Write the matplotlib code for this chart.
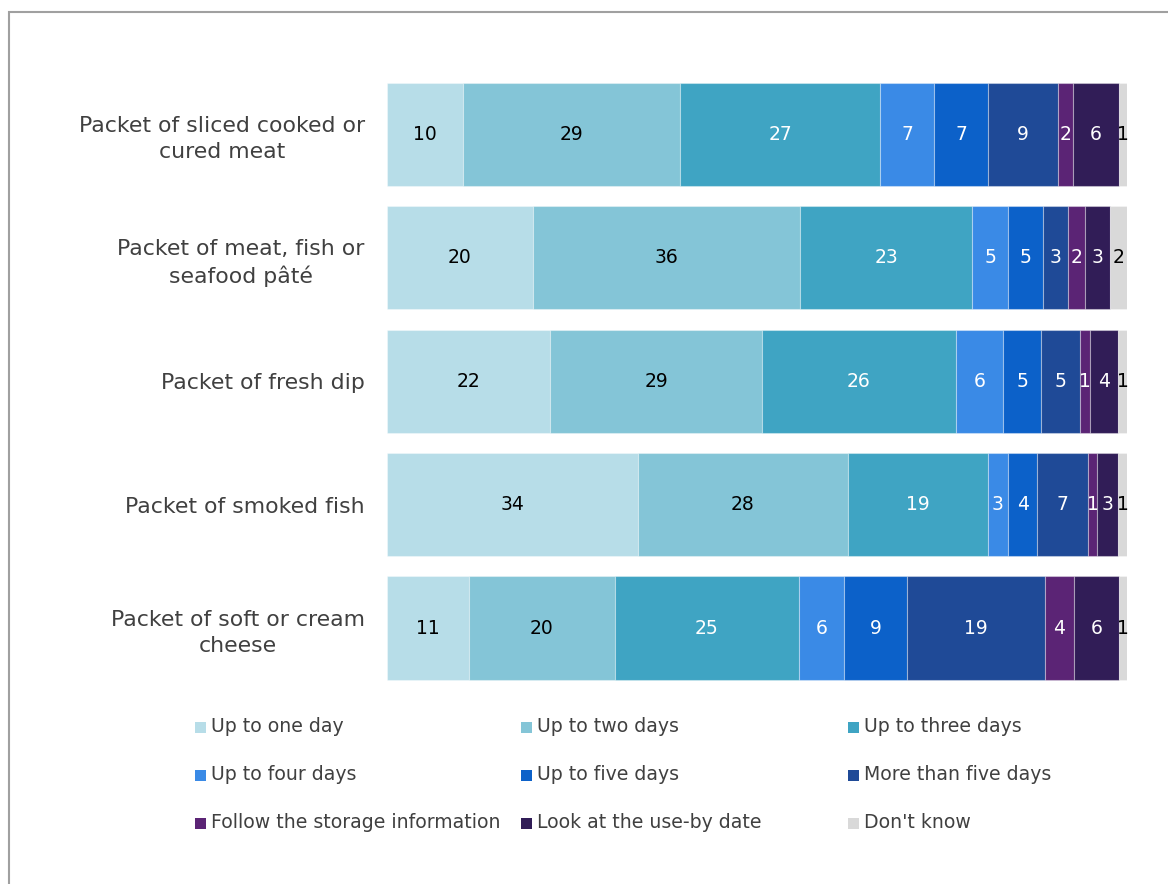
import numpy as np
import matplotlib.pyplot as plt
from matplotlib.patches import Rectangle

plt.rcParams['font.family'] = ['DejaVu Sans']

categories = ['Packet of sliced cooked or\ncured meat',
              'Packet of meat, fish or\nseafood pâté',
              'Packet of fresh dip',
              'Packet of smoked fish',
              'Packet of soft or cream\ncheese']

series = ['Up to one day', 'Up to two days', 'Up to three days',
          'Up to four days', 'Up to five days', 'More than five days',
          'Follow the storage information', 'Look at the use-by date', "Don't know"]

# percentages (labels show them rounded)
up_to_one   = [10.3, 19.7, 22.0, 33.8, 11.1]
up_to_two   = [29.3, 36.1, 28.6, 28.4, 19.7]
up_to_three = [27.0, 23.2, 26.1, 18.8, 24.9]
up_to_four  = [7.3, 4.9, 6.4, 2.8, 6.1]
up_to_five  = [7.3, 4.6, 5.1, 3.9, 8.6]
more_five   = [9.4, 3.4, 5.3, 6.8, 18.6]
follow_info = [2.0, 2.3, 1.3, 1.3, 3.9]
use_by      = [6.2, 3.4, 3.8, 2.8, 6.1]
dont_know   = [1.1, 2.3, 1.2, 1.2, 1.1]

values = np.array([up_to_one, up_to_two, up_to_three, up_to_four, up_to_five,
                   more_five, follow_info, use_by, dont_know], dtype=float)

farben = ['#b7dde8', '#84c5d7', '#3fa4c3', '#3a8ae6', '#0c61c9',
          '#1f4a97', '#5b2475', '#311d57', '#d9d9d9']
textfarben = ['black', 'black', 'white', 'white', 'white',
              'white', 'white', 'white', 'black']

# 100% stacked
anteil = values / values.sum(axis=0) * 100

fig = plt.figure(figsize=(11.68, 8.84), dpi=100)
ax = fig.add_axes([387/1168, 1-689.7/884, (1127-387)/1168, (689.7-72.8)/884])

y = np.arange(len(categories))
left = np.zeros(len(categories))
for i in range(len(series)):
    ax.barh(y, anteil[i], left=left, height=0.835, color=farben[i],
            edgecolor=(1, 1, 1, 0.35), linewidth=0.8)
    for j in range(len(categories)):
        ax.text(left[j] + anteil[i][j]/2, y[j], '%d' % round(values[i][j]),
                ha='center', va='center', fontsize=13.5, color=textfarben[i])
    left += anteil[i]

ax.set_xlim(0, 100)
ax.set_ylim(len(categories) - 0.5, -0.5)
ax.set_yticks(y)
ax.set_yticklabels(categories, fontsize=15.8, color='#404040', multialignment='center')
for lab in ax.get_yticklabels():
    lab.set_linespacing(1.35)
ax.tick_params(axis='y', length=0, pad=16)
ax.set_xticks([])
for s in ax.spines.values():
    s.set_visible(False)

# legend, filled row by row
leg_x = [195, 521, 848]
leg_y = [727, 775, 823]
for i, name in enumerate(series):
    px = leg_x[i % 3]
    py = leg_y[i // 3]
    fig.patches.append(Rectangle((px/1168, 1 - (py + 5.5)/884), 11/1168, 11/884,
                                 transform=fig.transFigure, facecolor=farben[i],
                                 edgecolor='none'))
    fig.text((px + 16)/1168, 1 - py/884, name, ha='left', va='center',
             fontsize=13.6, color='#404040')

# grey frame
fig.patches.append(Rectangle((8.5/1168, -0.1), 1.2, 1 - 12.5/884 + 0.1,
                             transform=fig.transFigure, facecolor='none',
                             edgecolor='#a0a0a0', linewidth=1.5))

fig.savefig('out.png', dpi=100)
